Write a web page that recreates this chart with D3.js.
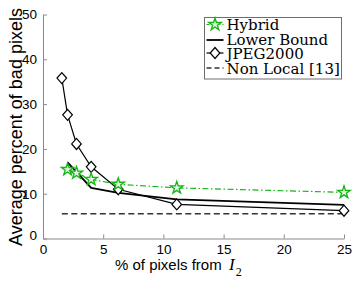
<!DOCTYPE html>
<html>
<head>
<meta charset="utf-8">
<script src="https://cdn.jsdelivr.net/npm/d3@7"></script>
<style>
  body { margin: 0; background: #fff; }
  svg { display: block; }
  .lt { font-family: "DejaVu Serif", "Liberation Serif", serif; font-size: 15px; }
</style>
</head>
<body>
<div class="container"></div>
<script>
// data (x = % of pixels from I2 = 100/n^2)
var x_jpeg = [1.5625, 2.04, 2.78, 4, 6.25, 11.11, 25];
var y_jpeg = [35.8, 27.6, 21.1, 16.0, 11.0, 7.6, 6.2];

var x_hybrid = [2.04, 2.78, 4, 6.25, 11.11, 25];
var y_hybrid = [15.4, 14.6, 13.2, 12.1, 11.3, 10.3];

var x_lower = [2.04, 4, 6.25, 11.11, 25];
var y_lower = [17.0, 11.3, 10.2, 8.75, 7.5];

var x_nonlocal = [1.5625, 25];
var y_nonlocal = [5.5, 5.5];

var x_ticks = [0, 5, 10, 15, 20, 25];
var y_ticks = [0, 10, 20, 30, 40, 50];

var legend_labels = ["Hybrid", "Lower Bound", "JPEG2000", "Non Local [13]"];

var W = 357, H = 284;
var margin = {top: 14.5, right: 13, bottom: 45.5, left: 43},
    width = W - margin.left - margin.right,
    height = H - margin.top - margin.bottom;

var x_scale = d3.scaleLinear().domain([0, 25]).range([0, width]);
var y_scale = d3.scaleLinear().domain([0, 50]).range([height, 0]);

var green = "#12b512";
var axis_col = "#8a8a8a";

var svg = d3.select("div.container").append("svg")
    .attr("width", W)
    .attr("height", H);

var g = svg.append("g")
    .attr("transform", "translate(" + margin.left + "," + margin.top + ")");

// axes: only left and bottom, ticks pointing inwards
var xAxis = g.append("g")
    .attr("transform", "translate(0," + height + ")")
    .call(d3.axisBottom(x_scale).tickValues(x_ticks).tickSizeInner(-4).tickSizeOuter(0).tickPadding(6));
var yAxis = g.append("g")
    .call(d3.axisLeft(y_scale).tickValues(y_ticks).tickSizeInner(-4).tickSizeOuter(0).tickPadding(6));

[xAxis, yAxis].forEach(function (ax) {
  ax.select(".domain").attr("stroke", axis_col);
  ax.selectAll(".tick line").attr("stroke", axis_col);
  ax.selectAll(".tick text")
      .attr("fill", "#000")
      .style("font-family", "'Liberation Sans', Arial, sans-serif")
      .style("font-size", "13.5px");
});
xAxis.selectAll(".tick").filter(function (d) { return d === 0; }).select("line").remove();
yAxis.selectAll(".tick").filter(function (d) { return d === 0; }).select("text").attr("dy", "0.05em");

function pairs(xs, ys) {
  return xs.map(function (d, i) { return [d, ys[i]]; });
}

var line = d3.line()
    .x(function (d) { return x_scale(d[0]); })
    .y(function (d) { return y_scale(d[1]); });

// Non Local dashed
g.append("path")
    .datum(pairs(x_nonlocal, y_nonlocal))
    .attr("fill", "none")
    .attr("stroke", "#333")
    .attr("stroke-width", 1.5)
    .attr("stroke-dasharray", "6,3.5")
    .attr("d", line);

// Lower bound
g.append("path")
    .datum(pairs(x_lower, y_lower))
    .attr("fill", "none")
    .attr("stroke", "#000")
    .attr("stroke-width", 1.8)
    .attr("stroke-linejoin", "round")
    .attr("d", line);

// JPEG2000
g.append("path")
    .datum(pairs(x_jpeg, y_jpeg))
    .attr("fill", "none")
    .attr("stroke", "#000")
    .attr("stroke-width", 1.2)
    .attr("d", line);

var diamond = "M0,-5.5L4.8,0L0,5.5L-4.8,0Z";
g.selectAll(".dia")
    .data(pairs(x_jpeg, y_jpeg))
    .enter().append("path")
    .attr("class", "dia")
    .attr("d", diamond)
    .attr("fill", "#fff")
    .attr("stroke", "#000")
    .attr("stroke-width", 1.2)
    .attr("transform", function (d) { return "translate(" + x_scale(d[0]) + "," + y_scale(d[1]) + ")"; });

// Hybrid dash-dot
g.append("path")
    .datum(pairs(x_hybrid, y_hybrid))
    .attr("fill", "none")
    .attr("stroke", green)
    .attr("stroke-width", 1.2)
    .attr("stroke-dasharray", "6,2.5,1.5,2.5")
    .attr("d", line);

var star = d3.symbol().type(d3.symbolStar).size(48);
g.selectAll(".star")
    .data(pairs(x_hybrid, y_hybrid))
    .enter().append("path")
    .attr("class", "star")
    .attr("d", star)
    .attr("fill", "#dff5df")
    .attr("stroke", green)
    .attr("stroke-width", 1.3)
    .attr("transform", function (d) { return "translate(" + x_scale(d[0]) + "," + y_scale(d[1]) + ")"; });

// axis labels
svg.append("text")
    .attr("transform", "translate(22," + 127 + ") rotate(-90)")
    .attr("text-anchor", "middle")
    .style("font-family", "'Liberation Sans', Arial, sans-serif")
    .style("font-size", "18px")
    .text("Average percent of bad pixels");

var xl = svg.append("text")
    .attr("x", 115)
    .attr("y", 270)
    .style("font-family", "'Liberation Sans', Arial, sans-serif")
    .style("font-size", "15px");
xl.append("tspan").text("% of pixels from ");
xl.append("tspan")
    .attr("x", 229)
    .style("font-family", "'Liberation Serif', serif")
    .style("font-style", "italic")
    .style("font-size", "17px")
    .text("I");
xl.append("tspan")
    .attr("dy", 6)
    .attr("dx", 1)
    .style("font-family", "'Liberation Serif', serif")
    .style("font-size", "12px")
    .text("2");

// legend
var lg = svg.append("g");
lg.append("rect")
    .attr("x", 204.5).attr("y", 17.5)
    .attr("width", 137).attr("height", 61.5)
    .attr("fill", "#fff")
    .attr("stroke", "#6e6e6e")
    .attr("stroke-width", 1);

var rows = [30, 45, 59, 74];
var mid = [24.5, 40, 53, 68];
var lx0 = 206.5, lx1 = 223.5, lxm = 215;

lg.append("line").attr("x1", lx0).attr("x2", lx1).attr("y1", mid[0]).attr("y2", mid[0])
    .attr("stroke", green).attr("stroke-width", 1.2).attr("stroke-dasharray", "3,2,1,2");
lg.append("path").attr("d", star)
    .attr("fill", "#dff5df").attr("stroke", green).attr("stroke-width", 1.3)
    .attr("transform", "translate(" + lxm + "," + mid[0] + ")");

lg.append("line").attr("x1", lx0).attr("x2", lx1).attr("y1", mid[1]).attr("y2", mid[1])
    .attr("stroke", "#000").attr("stroke-width", 1.8);

lg.append("line").attr("x1", lx0).attr("x2", lx1).attr("y1", mid[2]).attr("y2", mid[2])
    .attr("stroke", "#000").attr("stroke-width", 1.2);
lg.append("path").attr("d", diamond)
    .attr("fill", "#fff").attr("stroke", "#000").attr("stroke-width", 1.2)
    .attr("transform", "translate(" + lxm + "," + mid[2] + ")");

lg.append("line").attr("x1", lx0).attr("x2", lx1).attr("y1", mid[3]).attr("y2", mid[3])
    .attr("stroke", "#333").attr("stroke-width", 1.3).attr("stroke-dasharray", "5,3");

lg.selectAll(".lt")
    .data(legend_labels)
    .enter().append("text")
    .attr("class", "lt")
    .attr("x", 226.5)
    .attr("y", function (d, i) { return rows[i]; })
    .text(function (d) { return d; });
</script>
</body>
</html>
